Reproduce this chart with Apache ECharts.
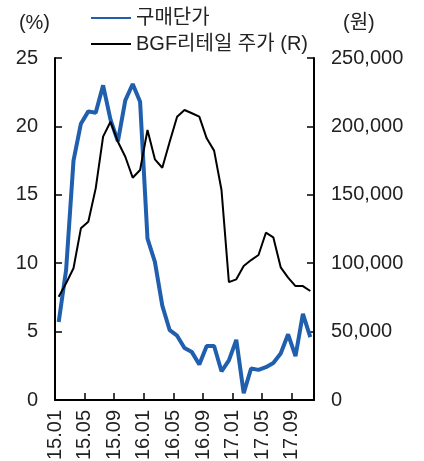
<!DOCTYPE html>
<html>
<head>
<meta charset="utf-8">
<script src="https://cdn.jsdelivr.net/npm/echarts@6/dist/echarts.min.js"></script>
<style>
  html, body { margin: 0; padding: 0; background: #fff; }
  #chart { width: 424px; height: 461px; }
</style>
</head>
<body>
<div id="chart"></div>
<script>
// 월 (15.01 ~ 17.11)
const months = [
  '15.01', '15.02', '15.03', '15.04', '15.05', '15.06', '15.07', '15.08', '15.09', '15.10', '15.11', '15.12',
  '16.01', '16.02', '16.03', '16.04', '16.05', '16.06', '16.07', '16.08', '16.09', '16.10', '16.11', '16.12',
  '17.01', '17.02', '17.03', '17.04', '17.05', '17.06', '17.07', '17.08', '17.09', '17.10', '17.11'
];

// 구매단가 (%)
const unitPrice = [
  5.7, 9.5, 17.5, 20.2, 21.1, 21.0, 23.0, 20.5, 18.9, 21.9, 23.1, 21.8,
  11.8, 10.1, 6.9, 5.1, 4.7, 3.8, 3.5, 2.6, 3.95, 3.95, 2.1, 2.9,
  4.4, 0.5, 2.3, 2.2, 2.4, 2.7, 3.4, 4.8, 3.2, 6.3, 4.6
];

// BGF리테일 주가 (원)
const stockPrice = [
  75500, 85300, 96300, 125500, 130300, 154700, 192500, 203400, 188800, 177800, 162500, 168100,
  197400, 175900, 169800, 188800, 207100, 212000, 209600, 207100, 191300, 182300, 153500, 86200,
  88200, 98000, 102300, 106000, 122300, 118900, 97000, 89400, 83300, 83300, 79700
];

const FONT = '"Liberation Sans", Arial, "Noto Sans CJK KR", sans-serif';
const chart = echarts.init(document.getElementById('chart'));

const withCommas = v => String(v).replace(/\B(?=(\d{3})+(?!\d))/g, ',');

chart.setOption({
  animation: false,
  textStyle: { fontFamily: FONT },
  legend: {
    orient: 'vertical',
    left: 85,
    top: 3,
    itemWidth: 40,
    itemHeight: 14,
    itemGap: 6,
    itemStyle: { opacity: 0 },
    textStyle: { fontSize: 20, color: '#222', fontFamily: FONT },
    data: ['구매단가', 'BGF리테일 주가 (R)']
  },
  grid: { left: 55, right: 110, top: 58, bottom: 61, containLabel: false, outerBoundsMode: 'none' },
  xAxis: {
    type: 'value',
    min: 0,
    max: months.length,
    interval: 4,
    splitLine: { show: false },
    axisLine: { lineStyle: { color: '#000', width: 2 } },
    axisTick: { inside: true, length: 7, lineStyle: { color: '#000', width: 1.5 } },
    axisLabel: {
      rotate: 90,
      margin: 10,
      fontSize: 20,
      color: '#222',
      showMaxLabel: false,
      formatter: v => months[v] || ''
    }
  },
  yAxis: [
    {
      type: 'value',
      min: 0,
      max: 25,
      interval: 5,
      name: '(%)',
      nameGap: 25,
      nameTextStyle: { fontSize: 20, color: '#222', align: 'right', padding: [0, 5, 0, 0] },
      splitLine: { show: false },
      axisLine: { show: true, lineStyle: { color: '#000', width: 2 } },
      axisTick: { show: true, inside: true, length: 7, lineStyle: { color: '#000', width: 1.5 } },
      axisLabel: { fontSize: 20, color: '#222', margin: 17 }
    },
    {
      type: 'value',
      min: 0,
      max: 250000,
      interval: 50000,
      name: '(원)',
      nameGap: 25,
      nameTextStyle: { fontSize: 20, color: '#222', align: 'left', padding: [0, 0, 0, 29] },
      splitLine: { show: false },
      axisLine: { show: true, lineStyle: { color: '#000', width: 2 } },
      axisTick: { show: true, inside: true, length: 7, lineStyle: { color: '#000', width: 1.5 } },
      axisLabel: { fontSize: 20, color: '#222', margin: 17, formatter: withCommas }
    }
  ],
  series: [
    {
      name: '구매단가',
      type: 'line',
      yAxisIndex: 0,
      symbol: 'none',
      lineStyle: { color: '#1f5fad', width: 4 },
      itemStyle: { color: '#1f5fad' },
      data: unitPrice.map((v, i) => [i + 0.5, v])
    },
    {
      name: 'BGF리테일 주가 (R)',
      type: 'line',
      yAxisIndex: 1,
      symbol: 'none',
      lineStyle: { color: '#000', width: 2 },
      itemStyle: { color: '#000' },
      data: stockPrice.map((v, i) => [i + 0.5, v])
    }
  ]
});
</script>
</body>
</html>
